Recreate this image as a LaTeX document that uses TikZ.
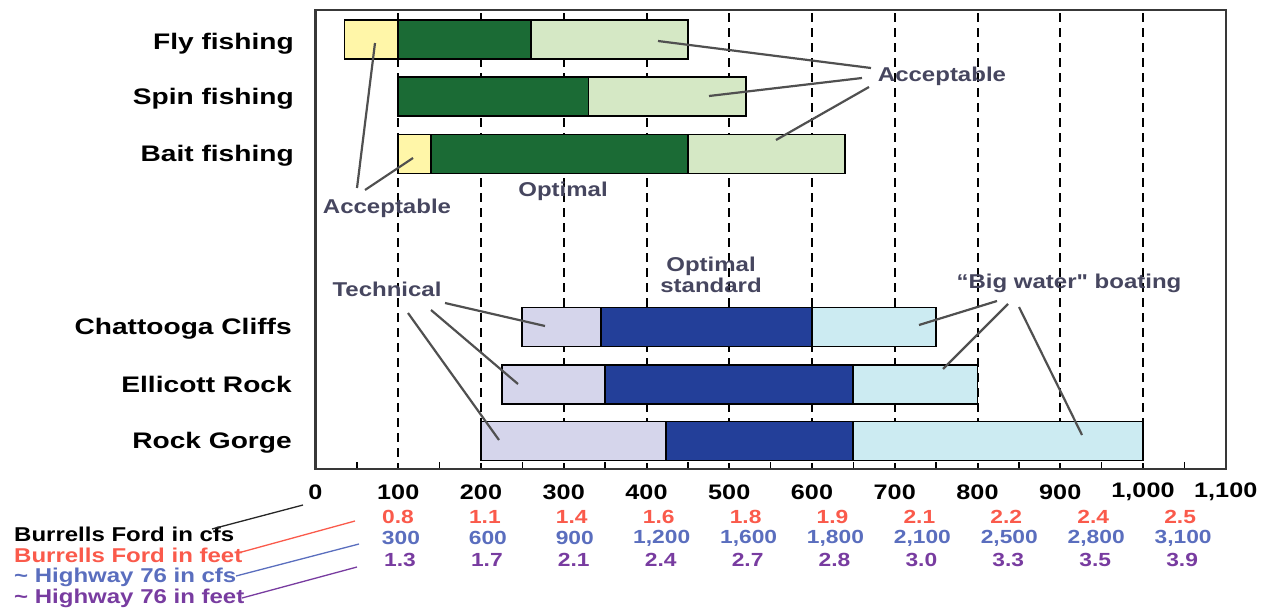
\documentclass[tikz,border=0pt]{standalone}
\usepackage{fontspec}
\setmainfont{Liberation Sans}
\newfontfamily\plainquote{Liberation Sans}[Ligatures=TeXOff]

\definecolor{okyellow}{RGB}{255,246,168}
\definecolor{optgreen}{RGB}{27,107,53}
\definecolor{accgreen}{RGB}{213,232,197}
\definecolor{techlav}{RGB}{213,213,235}
\definecolor{optblue}{RGB}{35,63,153}
\definecolor{bigblue}{RGB}{204,235,242}
\definecolor{feetred}{RGB}{250,90,75}
\definecolor{cfsblue}{RGB}{90,110,190}
\definecolor{feetpurple}{RGB}{120,60,160}
\definecolor{notegray}{RGB}{70,70,95}
\definecolor{leadgray}{RGB}{80,80,80}

\tikzset{
  seg/.style={draw=black, line width=1.8pt},
  guide/.style={dash pattern=on 9pt off 6pt, line width=2pt},
  lead/.style={draw=leadgray, line width=2.2pt},
  rowlab/.style={anchor=base east, inner sep=0pt, xscale=1.25, font=\bfseries\fontsize{22.5}{25}\selectfont},
  note/.style={inner sep=0pt, xscale=1.2, text=notegray, font=\bfseries\fontsize{20}{21}\selectfont},
  axnum/.style={inner sep=0pt, xscale=1.2, font=\bfseries\fontsize{21}{22}\selectfont},
  valnum/.style={inner sep=0pt, xscale=1.2, font=\bfseries\fontsize{19}{20}\selectfont},
  leglab/.style={anchor=west, inner sep=0pt, xscale=1.2, font=\bfseries\fontsize{20}{21}\selectfont}
}

\begin{document}
\begin{tikzpicture}[x=1pt, y=-1pt]
\useasboundingbox (0,0) rectangle (1275,608);

% chart area, x in cfs
\begin{scope}[shift={(315.5,0)}, x=0.8275pt]
  \foreach \v in {100,200,...,1000}
    \draw[guide] (\v,13) -- (\v,469);
  \foreach \v in {50,150,...,1050}
    \draw[line width=1.6pt] (\v,469) -- (\v,462);

  % fishing
  \foreach \y/\a/\b/\c in {39.5/35/100/okyellow, 39.5/100/260/optgreen, 39.5/260/450/accgreen,
                           96.5/100/330/optgreen, 96.5/330/520/accgreen,
                           154/100/140/okyellow, 154/140/450/optgreen, 154/450/640/accgreen}
    \filldraw[seg, fill=\c] (\a,\y-19.5) rectangle (\b,\y+19.5);

  % boating
  \foreach \y/\a/\b/\c in {327/250/345/techlav, 327/345/600/optblue, 327/600/750/bigblue,
                           384.5/225/350/techlav, 384.5/350/650/optblue, 384.5/650/800/bigblue,
                           441/200/424/techlav, 441/424/650/optblue, 441/650/1000/bigblue}
    \filldraw[seg, fill=\c] (\a,\y-19.5) rectangle (\b,\y+19.5);

  \draw[line width=2.2pt, draw=black!78] (0,10) rectangle (1100,469);

  \foreach \v/\t in {0/0, 100/100, 200/200, 300/300, 400/400, 500/500,
                     600/600, 700/700, 800/800, 900/900, 1000/{1,000}, 1100/{1,100}}
    \node[axnum] (ax\v) at (\v,492) {\t};
\end{scope}

% rows
\node[rowlab] (fly) at (294,49.5) {Fly fishing};
\node[rowlab] (spin) at (294,104) {Spin fishing};
\node[rowlab] (bait) at (294,161) {Bait fishing};
\node[rowlab] (chat) at (292,334.5) {Chattooga Cliffs};
\node[rowlab] (ell) at (292,392) {Ellicott Rock};
\node[rowlab] (gorge) at (292,448) {Rock Gorge};

% notes
\node[note] (accL) at (387,208) {Acceptable};
\node[note] (optU) at (563,191) {Optimal};
\node[note] (accR) at (942,76) {Acceptable};
\node[note] (tech) at (387,289) {Technical};
\node[note, align=center] (optStd) at (711,275) {Optimal\\standard};
\node[note] (bigw) at (1069,283) {“Big water{\plainquote\bfseries"} boating};

\coordinate (accL-a) at (357,188);  \coordinate (flyY) at (375,43);
\coordinate (accL-b) at (365,190);  \coordinate (baitY) at (413,158);
\coordinate (accR-a) at (871,68);   \coordinate (flyG) at (658,41);
\coordinate (accR-b) at (862,78);   \coordinate (spinG) at (709,96);
\coordinate (accR-c) at (869,87);   \coordinate (baitG) at (776,140);
\coordinate (tech-a) at (445,303);  \coordinate (chatT) at (545,326);
\coordinate (tech-b) at (431,310);  \coordinate (ellT) at (518,384);
\coordinate (tech-c) at (408,313);  \coordinate (gorgeT) at (499,440);
\coordinate (bigw-a) at (997,301);  \coordinate (chatB) at (919,325);
\coordinate (bigw-b) at (1008,304); \coordinate (ellB) at (943,369);
\coordinate (bigw-c) at (1019,307); \coordinate (gorgeB) at (1082,435);

\draw[lead] (accL-a) -- (flyY);
\draw[lead] (accL-b) -- (baitY);
\draw[lead] (accR-a) -- (flyG);
\draw[lead] (accR-b) -- (spinG);
\draw[lead] (accR-c) -- (baitG);
\draw[lead] (tech-a) -- (chatT);
\draw[lead] (tech-b) -- (ellT);
\draw[lead] (tech-c) -- (gorgeT);
\draw[lead] (bigw-a) -- (chatB);
\draw[lead] (bigw-b) -- (ellB);
\draw[lead] (bigw-c) -- (gorgeB);

% conversion rows
\foreach \t [count=\i from 0] in {0.8,1.1,1.4,1.6,1.8,1.9,2.1,2.2,2.4,2.5}
  \node[valnum, text=feetred] (ft\i) at (398+86.9*\i,517) {\t};
\foreach \t [count=\i from 0] in {300,600,900,{1,200},{1,600},{1,800},{2,100},{2,500},{2,800},{3,100}}
  \node[valnum, text=cfsblue] (hc\i) at (401+86.9*\i,538) {\t};
\foreach \t [count=\i from 0] in {1.3,1.7,2.1,2.4,2.7,2.8,3.0,3.3,3.5,3.9}
  \node[valnum, text=feetpurple] (hf\i) at (400+86.9*\i,560) {\t};

% legend
\node[leglab] (bfcfs) at (14,534) {Burrells Ford in cfs};
\node[leglab, text=feetred] (bfft) at (14,555) {Burrells Ford in feet};
\node[leglab, text=cfsblue] (hwcfs) at (14,577) {\textasciitilde\ Highway 76 in cfs};
\node[leglab, text=feetpurple] (hwft) at (14,598) {\textasciitilde\ Highway 76 in feet};

\coordinate (bfcfs-e) at (212,529);  \coordinate (cfsrow) at (303,505);
\coordinate (bfft-e) at (238,553);   \coordinate (ftrow) at (355,521);
\coordinate (hwcfs-e) at (236,576);  \coordinate (hcrow) at (359,544);
\coordinate (hwft-e) at (242,598);   \coordinate (hfrow) at (357,567);

\draw[line width=1.3pt, draw=black!85] (bfcfs-e) -- (cfsrow);
\draw[line width=1.3pt, draw=feetred] (bfft-e) -- (ftrow);
\draw[line width=1.3pt, draw=cfsblue] (hwcfs-e) -- (hcrow);
\draw[line width=1.3pt, draw=feetpurple] (hwft-e) -- (hfrow);
\end{tikzpicture}
\end{document}
